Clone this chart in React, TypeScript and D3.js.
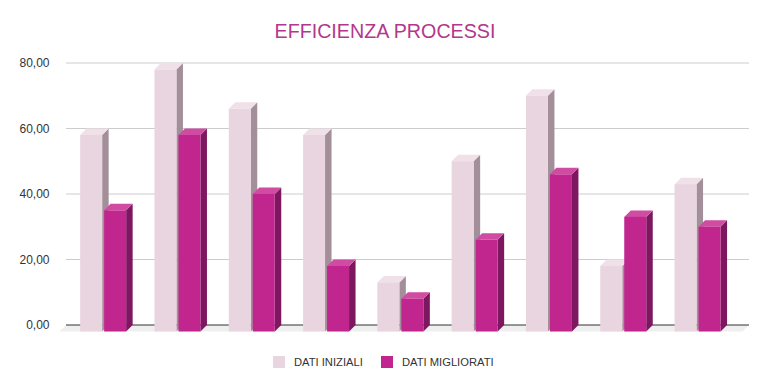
import React from "react";
import * as d3 from "d3";

const width = 769;
const height = 388;
const margin = { top: 63, left: 66, bottom: 63, right: 20 };
const depth = 6.5;

const categories = ["1", "2", "3", "4", "5", "6", "7", "8", "9"];
const datiIniziali = [60, 80, 68, 60, 15, 52, 72, 20, 45];
const datiMigliorati = [37, 60, 42, 20, 10, 28, 48, 35, 32];
const yTicks = [0, 20, 40, 60, 80];
const seriesNames = ["DATI INIZIALI", "DATI MIGLIORATI"];

const colors = [
  { front: "#e9d5df", side: "#a38f99", top: "#f0e0e8" },
  { front: "#c1268f", side: "#7d1760", top: "#d04ba2" },
];

const fmt = (v: number) => v.toFixed(2).replace(".", ",");

export default function App() {
  const plotRight = 749;
  const y = d3.scaleLinear().domain([0, 80]).range([325, margin.top]);
  const x = d3
    .scaleBand<string>()
    .domain(categories)
    .range([margin.left, margin.left + 74.3 * categories.length])
    .padding(0);
  const barW = 22;
  const gap = 2;
  const groupW = barW * 2 + gap;

  const series = [datiIniziali, datiMigliorati];

  const bar = (cat: string, v: number, s: number) => {
    const x0 = (x(cat) as number) + (x.bandwidth() - groupW) / 2 + s * (barW + gap);
    const x1 = x0 + barW;
    const yb = y(0) + depth;
    const yt = y(v) + depth;
    const c = colors[s];
    return (
      <g key={cat + s}>
        <polygon
          points={`${x1},${yt} ${x1 + depth},${yt - depth} ${x1 + depth},${yb - depth} ${x1},${yb}`}
          fill={c.side}
        />
        <polygon
          points={`${x0},${yt} ${x0 + depth},${yt - depth} ${x1 + depth},${yt - depth} ${x1},${yt}`}
          fill={c.top}
        />
        <rect x={x0} y={yt} width={barW} height={yb - yt} fill={c.front} />
      </g>
    );
  };

  return (
    <svg
      width={width}
      height={height}
      style={{ position: "absolute", left: 0, top: 0, background: "#fff" }}
      fontFamily="'Liberation Sans', Arial, sans-serif"
    >
      <text x={385} y={37.5} textAnchor="middle" fontSize={19.7} fill="#b3378c">
        EFFICIENZA PROCESSI
      </text>

      {yTicks.map((t) => (
        <g key={t}>
          {t > 0 && (
            <line x1={margin.left} x2={plotRight} y1={y(t)} y2={y(t)} stroke="#cccccc" strokeWidth={1} />
          )}
          <text x={49.5} y={y(t)} dy="0.35em" textAnchor="end" fontSize={12} fill="#333">
            {fmt(t)}
          </text>
        </g>
      ))}

      <polygon
        points={`${margin.left},${y(0)} ${plotRight},${y(0)} ${plotRight - depth},${y(0) + depth} ${margin.left - depth},${y(0) + depth}`}
        fill="#efefef"
      />
      <line x1={margin.left} x2={plotRight} y1={y(0)} y2={y(0)} stroke="#333" strokeWidth={1} />

      {categories.map((cat, i) => (
        <g key={cat}>
          {series.map((vals, s) => bar(cat, vals[i], s))}
        </g>
      ))}

      {seriesNames.map((name, i) => {
        const lx = i === 0 ? 273 : 381;
        return (
          <g key={name}>
            <rect x={lx} y={356} width={12} height={12} fill={colors[i].front} />
            <text x={lx + 21} y={365.8} fontSize={11.2} fill="#333">
              {name}
            </text>
          </g>
        );
      })}
    </svg>
  );
}
